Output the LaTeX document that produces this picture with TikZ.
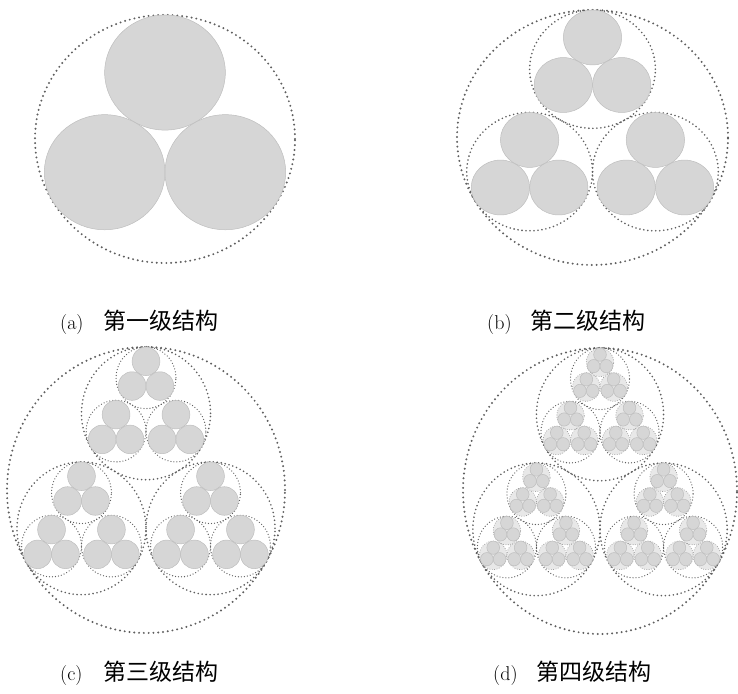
\documentclass[tikz,border=0pt]{standalone}
\usepackage{fontspec}
\newfontfamily\cjk{Noto Sans CJK SC}
\definecolor{fillc}{RGB}{214,214,214}
\definecolor{edgec}{RGB}{190,190,190}
\definecolor{lightc}{RGB}{232,232,232}
\definecolor{dotc}{RGB}{95,95,95}
\tikzset{
  ballfill/.style={fill=fillc,draw=edgec,line width=0.5pt},
  dotA/.style={draw=dotc,line width=2.2pt,line cap=round,dash pattern=on 0pt off 4.8pt},
  dotB/.style={draw=dotc,line width=1.8pt,line cap=round,dash pattern=on 0pt off 4.0pt},
  dotC/.style={draw=dotc,line width=1.3pt,line cap=round,dash pattern=on 0pt off 3.0pt},
  dotD/.style={fill=lightc,draw=dotc!70,line width=0.9pt,line cap=round,dash pattern=on 0pt off 2.4pt},
  lbl/.style={anchor=base west,inner sep=0pt,font=\fontsize{20}{20}\selectfont},
  cjklbl/.style={anchor=base west,inner sep=0pt,font=\cjk\fontsize{23}{23}\selectfont}
}
\def\kk{0.4641016}
\def\dd{0.5358984}
\def\drawlevel#1#2{%
  \ifnum#1=0
    \path[ballfill] (0,0) circle (1);
  \else
    \ifcase#2
      \path[dotA] (0,0) circle (1);
    \or
      \path[dotB] (0,0) circle (1);
    \or
      \path[dotC] (0,0) circle (1);
    \else
      \path[dotD] (0,0) circle (1);
    \fi
    \foreach \a in {90,210,330}{%
      \begin{scope}[shift={(\a:\dd)},scale=\kk]
        \drawlevel{\the\numexpr#1-1\relax}{\the\numexpr#2+1\relax}
      \end{scope}
    }%
  \fi}
\begin{document}
\begin{tikzpicture}[x=1pt,y=1pt]
\useasboundingbox (0,0) rectangle (738,693);
% (a)
\begin{scope}[shift={(165,554)},xscale=130,yscale=124]
  \drawlevel{1}{0}
\end{scope}
% (b)
\begin{scope}[shift={(592.5,555.5)},xscale=135.5,yscale=127.5]
  \drawlevel{2}{0}
\end{scope}
% (c)
\begin{scope}[shift={(146,203)},xscale=139,yscale=143]
  \drawlevel{3}{0}
\end{scope}
% (d)
\begin{scope}[shift={(600,202)},xscale=137,yscale=143]
  \drawlevel{4}{0}
\end{scope}
% labels
\node[lbl] (la) at (60,363) {(a)};
\node[cjklbl] (ta) at (103,363) {第一级结构};
\node[lbl] (lb) at (487,363) {(b)};
\node[cjklbl] (tb) at (530,363) {第二级结构};
\node[lbl] (lc) at (60,13) {(c)};
\node[cjklbl] (tc) at (103,13) {第三级结构};
\node[lbl] (ld) at (493,13) {(d)};
\node[cjklbl] (td) at (536,13) {第四级结构};
\end{tikzpicture}
\end{document}
